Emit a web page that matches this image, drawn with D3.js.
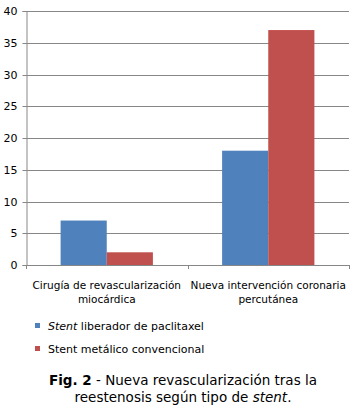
<!DOCTYPE html>
<html><head><meta charset="utf-8">
<script src="https://cdn.jsdelivr.net/npm/d3@7"></script>
<style>body{margin:0;background:#fff;}svg{display:block;font-family:Verdana,"DejaVu Sans",sans-serif;}</style>
</head><body>
<svg id="c" width="353" height="410"></svg>
<script>
const categories = [["Cirugía de revascularización","miocárdica"],["Nueva intervención coronaria","percutánea"]];
const seriesNames = ["Stent liberador de paclitaxel","Stent metálico convencional"];
const paclitaxel = [7, 18];
const convencional = [2, 37];
const yTicks = [0,5,10,15,20,25,30,35,40];
const colors = ["#4F81BD","#C0504D"];

const svg = d3.select("#c");
const L=26, R=349, T=11, B=265;
const x = d3.scaleBand().domain(d3.range(categories.length)).range([L,R]);
const y = d3.scaleLinear().domain([0,40]).range([B,T]);
const grid = "#878787";

// gridlines
svg.append("g").selectAll("line").data(yTicks.filter(d=>d>0)).join("line")
  .attr("x1",L).attr("x2",R).attr("y1",d=>Math.round(y(d))+0.5).attr("y2",d=>Math.round(y(d))+0.5)
  .attr("stroke",grid).attr("stroke-width",1);

// y axis
const ya = svg.append("g").attr("transform",`translate(${L+0.5},0)`)
  .call(d3.axisLeft(y).tickValues(yTicks).tickSize(4).tickPadding(5));
ya.select(".domain").attr("stroke",grid);
ya.selectAll(".tick").attr("transform",d=>`translate(0,${Math.round(y(d))+0.5})`);
ya.selectAll(".tick line").attr("stroke",grid);
ya.selectAll("text").attr("font-size","11px").attr("fill","#000").attr("font-family","Verdana,'DejaVu Sans',sans-serif");

// bars
const sub = d3.scaleBand().domain([0,1]).range([0,x.bandwidth()]).paddingOuter(0.75).paddingInner(0);
const series=[paclitaxel,convencional];
series.forEach((vals,si)=>{
  svg.append("g").selectAll("rect").data(vals).join("rect")
    .attr("x",(d,i)=>x(i)+sub(si)).attr("width",sub.bandwidth())
    .attr("y",d=>y(d)).attr("height",d=>B-y(d)).attr("fill",colors[si]);
});

// x axis
svg.append("line").attr("x1",L).attr("x2",R).attr("y1",B+0.5).attr("y2",B+0.5).attr("stroke",grid);
const xt=[L, ...d3.range(1,categories.length).map(i=>x(i)), R];
svg.append("g").selectAll("line").data(xt).join("line")
  .attr("x1",d=>Math.round(d)+0.5).attr("x2",d=>Math.round(d)+0.5).attr("y1",B).attr("y2",B+4).attr("stroke",grid);

// category labels
categories.forEach((lines,i)=>{
  const t=svg.append("text").attr("text-anchor","middle").attr("font-size","10.5px").attr("fill","#000");
  lines.forEach((ln,j)=>t.append("tspan").attr("x",x(i)+x.bandwidth()/2).attr("y",289+j*14).text(ln));
});

// legend
const lg = svg.append("g");
seriesNames.forEach((n,i)=>{
  const yy=330+i*23;
  lg.append("rect").attr("x",35).attr("y",yy-7).attr("width",5).attr("height",5).attr("fill",colors[i]);
  const t=lg.append("text").attr("x",48).attr("y",yy).attr("font-size","11px").attr("fill","#000");
  if(i===0){ t.append("tspan").attr("font-style","italic").text("Stent"); t.append("tspan").text(" liberador de paclitaxel"); }
  else t.text(n);
});

// caption
const c1=svg.append("text").attr("x",183).attr("y",385).attr("text-anchor","middle").attr("font-size","13.5px").attr("fill","#000");
c1.append("tspan").attr("font-weight","bold").text("Fig. 2");
c1.append("tspan").text(" - Nueva revascularización tras la");
const c2=svg.append("text").attr("x",183).attr("y",402).attr("text-anchor","middle").attr("font-size","13.5px").attr("fill","#000");
c2.append("tspan").text("reestenosis según tipo de ");
c2.append("tspan").attr("font-style","italic").text("stent");
c2.append("tspan").text(".");
</script>
</body></html>
